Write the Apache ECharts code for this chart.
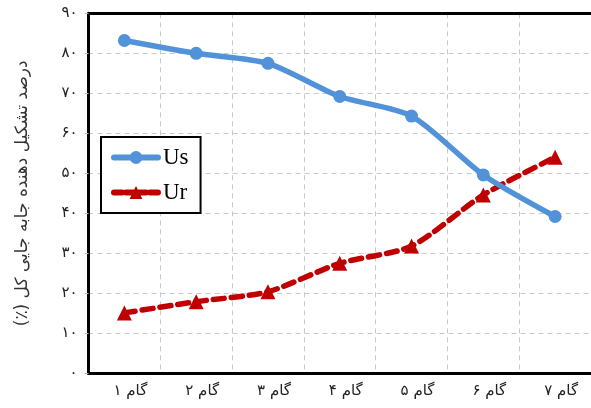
<!DOCTYPE html>
<html>
<head>
<meta charset="utf-8">
<script src="https://cdn.jsdelivr.net/npm/echarts@6/dist/echarts.min.js"></script>
<style>
html,body{margin:0;padding:0;background:#fff;}
#c{width:591px;height:408px;}
</style>
</head>
<body>
<div id="c"></div>
<script>
var categories = ['گام ۱','گام ۲','گام ۳','گام ۴','گام ۵','گام ۶','گام ۷'];
var usValues = [83.2, 80.0, 77.5, 69.2, 64.3, 49.6, 39.2];
var urValues = [15.1, 17.9, 20.4, 27.5, 31.8, 44.6, 54.0];
var yTickLabels = {0:'۰',10:'۱۰',20:'۲۰',30:'۳۰',40:'۴۰',50:'۵۰',60:'۶۰',70:'۷۰',80:'۸۰',90:'۹۰'};
var yTitle = '\u200Fدرصد تشکیل دهنده جابه جایی کل (٪)\u200F';

var chart = echarts.init(document.getElementById('c'), null, {renderer:'canvas'});
chart.setOption({
  backgroundColor:'#ffffff',
  animation:false,
  grid:{left:88.5, top:13.3, width:505.5, height:360, show:false},
  legend:{
    orient:'vertical', left:101, top:137,
    backgroundColor:'#fff', borderColor:'#000', borderWidth:2,
    padding:[9,12,9,10], itemGap:12, itemWidth:44, itemHeight:16,
    textStyle:{fontFamily:'Liberation Serif', fontSize:23, color:'#000'},
    data:[
      {name:'Us', lineStyle:{width:6}},
      {name:'Ur', lineStyle:{width:6, type:[8,4]}}
    ]
  },
  xAxis:[{
    type:'category', data:categories, boundaryGap:true,
    axisLine:{show:true, lineStyle:{color:'#000', width:3}},
    axisTick:{show:false},
    axisLabel:{fontFamily:'DejaVu Sans', fontSize:15, color:'#222', margin:10, padding:[0,0,0,12]},
    splitLine:{show:true, lineStyle:{color:'#c8c8c8', type:[5,4], width:1}}
  },{
    type:'category', data:categories, boundaryGap:true, position:'top',
    axisLine:{show:true, lineStyle:{color:'#000', width:3}},
    axisTick:{show:false}, axisLabel:{show:false}, splitLine:{show:false}
  }],
  yAxis:{
    type:'value', min:0, max:90, interval:10,
    name:yTitle, nameLocation:'middle', nameRotate:90, nameGap:57,
    nameTextStyle:{fontFamily:'DejaVu Sans', fontSize:17, color:'#333'},
    axisLine:{show:true, lineStyle:{color:'#000', width:3}},
    axisTick:{show:true, length:4, lineStyle:{color:'#bbb'}},
    axisLabel:{fontFamily:'DejaVu Sans', fontSize:15, color:'#222', margin:11,
      formatter:function(v){return yTickLabels[v] !== undefined ? yTickLabels[v] : '';}},
    splitLine:{show:true, lineStyle:{color:'#c8c8c8', type:[5,4], width:1}}
  },
  series:[
    {
      name:'Us', type:'line', data:usValues, smooth:0.25,
      symbol:'circle', symbolSize:13,
      itemStyle:{color:'#5192D8'},
      lineStyle:{color:'#5192D8', width:5.5, cap:'round', join:'round'},
      z:3
    },
    {
      name:'Ur', type:'line', data:urValues, smooth:0.25,
      symbol:'triangle', symbolSize:15,
      itemStyle:{color:'#C00000'},
      lineStyle:{color:'#C00000', width:5.5, type:[11,7], cap:'round', join:'round'},
      z:2
    }
  ]
});
</script>
</body>
</html>
